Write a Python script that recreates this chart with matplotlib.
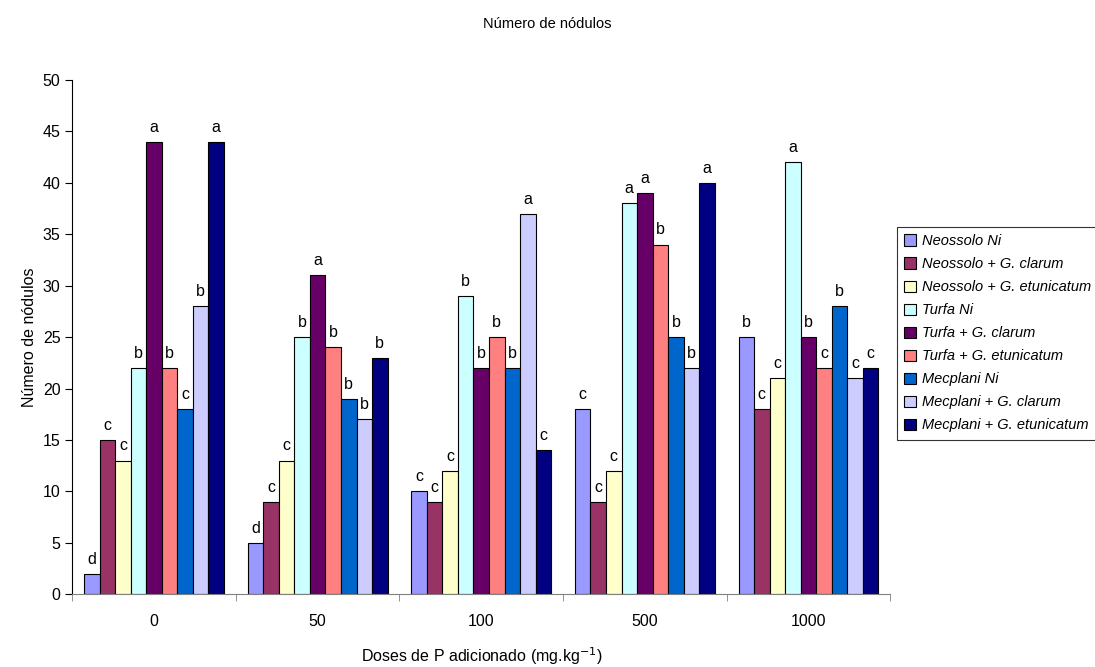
import numpy as np
import matplotlib.pyplot as plt

plt.rcParams['font.family'] = ['Liberation Sans', 'DejaVu Sans']

# doses of P (x categories)
doses = ['0', '50', '100', '500', '1000']

series = ['Neossolo Ni', 'Neossolo + G. clarum', 'Neossolo + G. etunicatum',
          'Turfa Ni', 'Turfa + G. clarum', 'Turfa + G. etunicatum',
          'Mecplani Ni', 'Mecplani + G. clarum', 'Mecplani + G. etunicatum']

# number of nodules, one row per series, one column per dose
neossolo_ni = [2, 5, 10, 18, 25]
neossolo_clarum = [15, 9, 9, 9, 18]
neossolo_etunicatum = [13, 13, 12, 12, 21]
turfa_ni = [22, 25, 29, 38, 42]
turfa_clarum = [44, 31, 22, 39, 25]
turfa_etunicatum = [22, 24, 25, 34, 22]
mecplani_ni = [18, 19, 22, 25, 28]
mecplani_clarum = [28, 17, 37, 22, 21]
mecplani_etunicatum = [44, 23, 14, 40, 22]

values = [neossolo_ni, neossolo_clarum, neossolo_etunicatum,
          turfa_ni, turfa_clarum, turfa_etunicatum,
          mecplani_ni, mecplani_clarum, mecplani_etunicatum]

# significance letters, same layout as values
letters = [['d', 'd', 'c', 'c', 'b'],
           ['c', 'c', 'c', 'c', 'c'],
           ['c', 'c', 'c', 'c', 'c'],
           ['b', 'b', 'b', 'a', 'a'],
           ['a', 'a', 'b', 'a', 'b'],
           ['b', 'b', 'b', 'b', 'c'],
           ['c', 'b', 'b', 'b', 'b'],
           ['b', 'b', 'a', 'b', 'c'],
           ['a', 'b', 'c', 'a', 'c']]

colors = ['#9999FF', '#993366', '#FFFFCC', '#CCFFFF', '#660066',
          '#FF8080', '#0066CC', '#CCCCFF', '#000080']

fig = plt.figure(figsize=(10.95, 6.67), dpi=100)
ax = fig.add_axes([0.066, 0.109, 0.747, 0.771])

x = np.arange(len(doses))
n = len(series)
width = 0.095
for i, (name, vals) in enumerate(zip(series, values)):
    pos = x + (i - (n - 1) / 2) * width
    ax.bar(pos, vals, width, color=colors[i], edgecolor='black',
           linewidth=0.8, label=name)
    for xp, v, lab in zip(pos, vals, letters[i]):
        ax.text(xp, v + 0.7, lab, ha='center', va='bottom', fontsize=11.5)

ax.set_xlim(-0.5, len(doses) - 0.5)
ax.set_ylim(0, 50)
ax.set_yticks(range(0, 51, 5))
ax.set_xticks(x)
ax.set_xticklabels(doses)
ax.set_xticks(np.arange(-0.5, len(doses), 1), minor=True)
ax.tick_params(axis='x', which='major', length=0, pad=14, labelsize=11.5)
ax.tick_params(axis='x', which='minor', length=5, color='#808080')
ax.tick_params(axis='y', length=5, labelsize=11.5)
ax.spines['top'].set_visible(False)
ax.spines['right'].set_visible(False)
ax.spines['bottom'].set_color('#808080')

ax.set_ylabel('Número de nódulos', fontsize=11.5)
ax.set_xlabel('Doses de P adicionado (mg.kg$^{-1}$)', fontsize=11.5, labelpad=12)
fig.suptitle('Número de nódulos', fontsize=10.5, y=0.975)

leg = fig.legend(loc='upper left', bbox_to_anchor=(0.819, 0.66),
                 prop={'style': 'italic', 'size': 10.5}, frameon=True,
                 fancybox=False, edgecolor='black', handlelength=0.8,
                 handleheight=0.8, handletextpad=0.4, labelspacing=0.62,
                 borderaxespad=0, borderpad=0.5)
leg.get_frame().set_linewidth(0.8)

fig.savefig('out.png', dpi=100)
